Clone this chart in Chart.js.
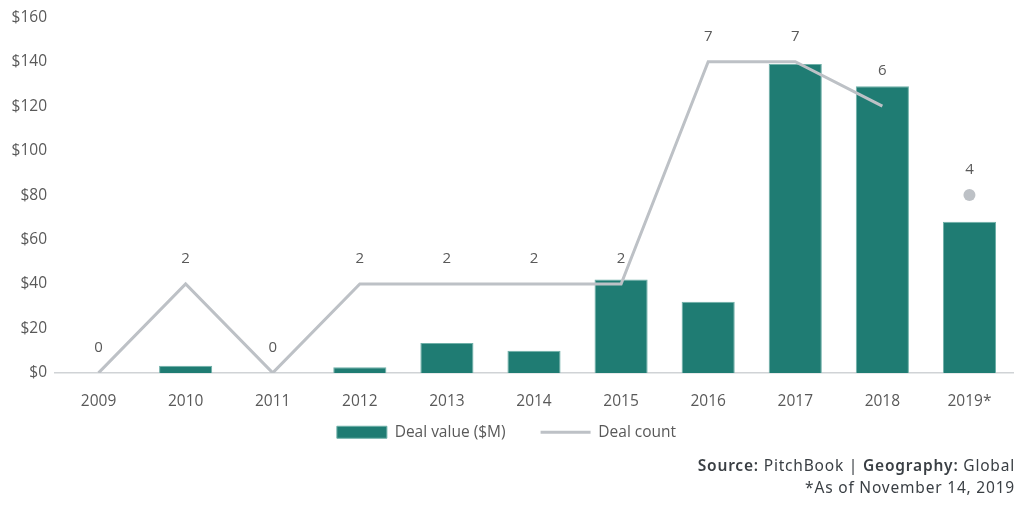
<!DOCTYPE html>
<html lang="en">
<head>
    <meta charset="UTF-8">
    <title>Deal value and deal count</title>
    <script src="https://cdn.jsdelivr.net/npm/chart.js"></script>
    <style>
        body { margin: 0; background: #fff; }
        #wrap { position: relative; width: 1033px; height: 513px; }
        #box { position: absolute; left: 0; top: 0; width: 1033px; height: 490px; }
        #note {
            position: absolute; right: 18px; top: 454px;
            font-family: "Noto Sans", sans-serif; font-size: 15.5px; color: #3a3f44;
            letter-spacing: 0.8px; text-align: right; line-height: 22px;
        }
        #note b { font-weight: 600; }
    </style>
</head>
<body>
<div id="wrap">
    <div id="box"><canvas id="dealChart"></canvas></div>
    <div id="note">
        <b>Source:</b> PitchBook | <b>Geography:</b> Global<br>
        *As of November 14, 2019
    </div>
</div>

<script>
    const years = ["2009", "2010", "2011", "2012", "2013", "2014", "2015", "2016", "2017", "2018", "2019*"];
    const dealValue = [0, 3.2, 0, 2.5, 13.5, 10, 42, 32, 139, 129, 68];
    const dealCount = [0, 2, 0, 2, 2, 2, 2, 7, 7, 6, null];
    const partialCount = [null, null, null, null, null, null, null, null, null, null, 4];
    const valueTicks = [0, 20, 40, 60, 80, 100, 120, 140, 160];

    const textColor = "#595959";
    const fontFamily = "'Open Sans', 'Noto Sans', sans-serif";

    // write the count above each line point, kept clear of the bar top
    const countLabels = {
        id: "countLabels",
        afterDatasetsDraw(chart) {
            const ctx = chart.ctx;
            const bars = chart.getDatasetMeta(0).data;
            ctx.save();
            ctx.font = "15px " + fontFamily;
            ctx.fillStyle = textColor;
            ctx.textAlign = "center";
            ctx.textBaseline = "middle";
            [1, 2].forEach(function (di) {
                const meta = chart.getDatasetMeta(di);
                const vals = chart.data.datasets[di].data;
                meta.data.forEach(function (pt, i) {
                    if (vals[i] === null || vals[i] === undefined) return;
                    let y = pt.y - 25;
                    if (bars[i] && y > bars[i].y - 15 && pt.y > bars[i].y) y = bars[i].y - 15;
                    ctx.fillText(String(vals[i]), pt.x, y);
                });
            });
            ctx.restore();
        }
    };

    // the legend sits closer under the year labels than the layout allows
    const liftLegend = {
        id: "liftLegend",
        afterLayout(chart) {
            if (!chart.legend) return;
            chart.legend.top -= 40;
            chart.legend.bottom -= 40;
        }
    };

    new Chart(document.getElementById("dealChart"), {
        type: "bar",
        data: {
            labels: years,
            datasets: [
                {
                    label: "Deal value ($M)",
                    data: dealValue,
                    backgroundColor: "#1f7c73",
                    borderColor: "#6fb0a8",
                    borderWidth: 1,
                    pointStyle: "rect",
                    barPercentage: 0.61,
                    categoryPercentage: 1,
                    yAxisID: "y",
                    order: 2
                },
                {
                    type: "line",
                    label: "Deal count",
                    data: dealCount,
                    borderColor: "#bdc1c6",
                    backgroundColor: "#bdc1c6",
                    borderWidth: 3,
                    pointRadius: 0,
                    pointStyle: "line",
                    tension: 0,
                    spanGaps: false,
                    yAxisID: "y1",
                    order: 1
                },
                {
                    type: "line",
                    label: "partial",
                    data: partialCount,
                    borderColor: "#bdc1c6",
                    backgroundColor: "#bdc1c6",
                    showLine: false,
                    pointRadius: 6,
                    pointBorderWidth: 0,
                    yAxisID: "y1",
                    order: 0
                }
            ]
        },
        options: {
            responsive: true,
            maintainAspectRatio: false,
            animation: false,
            layout: { padding: { top: 14, right: 20, bottom: 0, left: 0 } },
            plugins: {
                tooltip: { enabled: false },
                legend: {
                    position: "bottom",
                    labels: {
                        usePointStyle: true,
                        pointStyleWidth: 50,
                        boxHeight: 12,
                        padding: 35,
                        color: textColor,
                        font: { family: fontFamily, size: 15.5 },
                        filter: function (item) { return item.datasetIndex < 2; },
                        sort: function (a, b) { return a.datasetIndex - b.datasetIndex; }
                    }
                }
            },
            scales: {
                x: {
                    offset: true,
                    grid: { display: false, drawTicks: false },
                    border: { display: true, color: "#d0d3d6", width: 1.5 },
                    ticks: { color: textColor, padding: 19, font: { family: fontFamily, size: 15.5 } }
                },
                y: {
                    min: 0,
                    max: 160,
                    afterBuildTicks: function (axis) {
                        axis.ticks = valueTicks.map(function (v) { return { value: v }; });
                    },
                    afterFit: function (axis) { axis.width = 55; },
                    grid: { display: false, drawTicks: false },
                    border: { display: false },
                    ticks: {
                        color: textColor,
                        padding: 8,
                        font: { family: fontFamily, size: 15.5 },
                        callback: function (v) { return "$" + v; }
                    }
                },
                y1: {
                    display: false,
                    min: 0,
                    max: 8
                }
            }
        },
        plugins: [countLabels, liftLegend]
    });
</script>
</body>
</html>
